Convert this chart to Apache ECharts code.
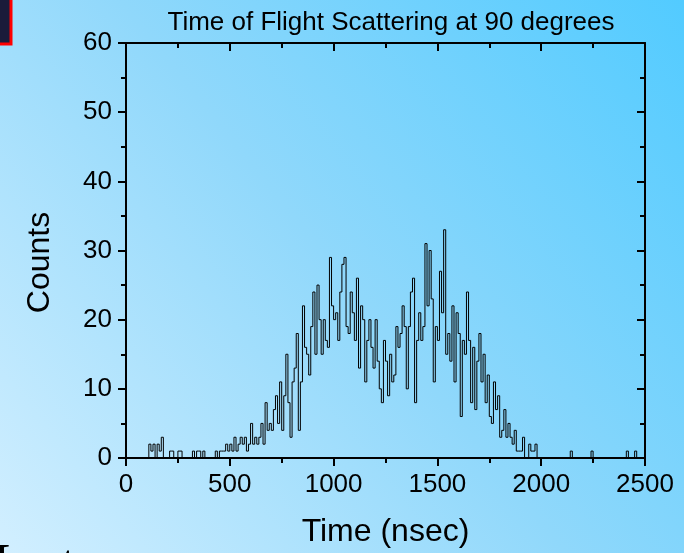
<!DOCTYPE html>
<html>
<head>
<meta charset="utf-8">
<script src="https://cdn.jsdelivr.net/npm/echarts@6/dist/echarts.min.js"></script>
<style>
  html, body { margin: 0; padding: 0; }
  #chart { width: 684px; height: 553px; }
</style>
</head>
<body>
<div id="chart"></div>
<script>
// Time-of-flight histogram: 10 ns channels starting at 0 ns
const channelStart = 0;
const channelWidth = 10;
const counts = [
  0, 0, 0, 0, 0, 0, 0, 0, 0, 0,        // 0
  0, 2, 1, 2, 0, 2, 1, 3, 0, 0,        // 100
  0, 1, 1, 0, 0, 1, 1, 0, 0, 0,        // 200
  0, 0, 1, 0, 1, 1, 0, 1, 0, 0,        // 300
  0, 0, 0, 1, 0, 1, 1, 1, 2, 1,        // 400
  2, 1, 3, 1, 2, 3, 2, 3, 1, 2,        // 500
  5, 2, 3, 2, 3, 5, 2, 8, 4, 5,        // 600
  4, 7, 9, 5, 11, 4, 9, 15, 8, 3,      // 700
  11, 13, 18, 4, 11, 22, 16, 15, 12, 19, // 800
  24, 15, 25, 20, 15, 20, 17, 16, 29, 22, // 900
  20, 21, 17, 24, 28, 29, 19, 18, 24, 21, // 1000
  17, 26, 13, 22, 20, 11, 17, 20, 16, 13, // 1100
  20, 14, 10, 8, 17, 14, 9, 15, 11, 12,   // 1200
  19, 16, 18, 22, 19, 10, 19, 24, 26, 8,  // 1300
  17, 21, 17, 19, 31, 22, 30, 23, 11, 19, // 1400
  17, 27, 21, 33, 15, 18, 14, 22, 11, 21, // 1500
  18, 6, 17, 15, 24, 17, 8, 16, 7, 14,    // 1600
  18, 11, 15, 8, 12, 6, 5, 11, 7, 9,      // 1700
  3, 4, 7, 3, 5, 3, 2, 4, 1, 1,           // 1800
  1, 3, 0, 0, 2, 1, 1, 2, 0, 0,           // 1900
  0, 0, 0, 0, 0, 0, 0, 0, 0, 0,           // 2000
  0, 0, 0, 0, 1, 0, 0, 0, 0, 0,           // 2100
  0, 0, 0, 0, 1, 0, 0, 0, 0, 0,           // 2200
  0, 0, 0, 0, 0, 0, 0, 0, 0, 0,           // 2300
  0, 1, 0, 0, 0, 1, 0, 0, 0, 0            // 2400
];

const xTicks = { min: 0, max: 2500, interval: 500 };
const yTicks = { min: 0, max: 60, interval: 10 };

const titleText = 'Time of Flight Scattering at 90 degrees';
const xName = 'Time (nsec)';
const yName = 'Counts';

const seriesData = counts.map((c, i) => [channelStart + i * channelWidth, c]);

const FONT = 'Liberation Sans, Arial, sans-serif';
const axisLine = { show: true, onZero: false, lineStyle: { color: '#000', width: 2 } };
const plain = v => String(v);

const chart = echarts.init(document.getElementById('chart'));
chart.setOption({
  animation: false,
  backgroundColor: new echarts.graphic.LinearGradient(0, 1, 1, 0, [
    { offset: 0, color: '#d2efff' },
    { offset: 0.5, color: '#90d8fb' },
    { offset: 1, color: '#52cbff' }
  ]),
  title: {
    text: titleText,
    left: 386,
    textAlign: 'center',
    top: 5,
    textStyle: { fontFamily: FONT, fontSize: 26, fontWeight: 'normal', color: '#000' }
  },
  grid: { left: 126, right: 39, top: 43, bottom: 91 },
  xAxis: [{
    type: 'value',
    position: 'bottom',
    min: xTicks.min, max: xTicks.max, interval: xTicks.interval,
    name: xName,
    nameLocation: 'middle',
    nameGap: 58,
    nameTextStyle: { fontFamily: FONT, fontSize: 32, color: '#000' },
    axisLine: axisLine,
    axisTick: { show: true, inside: false, length: 8, lineStyle: { color: '#000', width: 2 } },
    minorTick: { show: true, splitNumber: 2, length: 5, lineStyle: { color: '#000', width: 2 } },
    axisLabel: { margin: 14, fontFamily: FONT, fontSize: 26, color: '#000', formatter: plain },
    splitLine: { show: false }
  }, {
    type: 'value',
    position: 'top',
    min: xTicks.min, max: xTicks.max, interval: xTicks.interval,
    axisLine: axisLine,
    axisTick: { show: true, inside: true, length: 8, lineStyle: { color: '#000', width: 2 } },
    minorTick: { show: true, splitNumber: 2, length: 5, lineStyle: { color: '#000', width: 2 } },
    axisLabel: { show: false },
    splitLine: { show: false }
  }],
  yAxis: [{
    type: 'value',
    position: 'left',
    min: yTicks.min, max: yTicks.max, interval: yTicks.interval,
    name: yName,
    nameLocation: 'middle',
    nameGap: 70,
    nameRotate: 90,
    nameTextStyle: { fontFamily: FONT, fontSize: 32, color: '#000', padding: [0, 24, 0, 0] },
    axisLine: axisLine,
    axisTick: { show: true, inside: false, length: 8, lineStyle: { color: '#000', width: 2 } },
    minorTick: { show: true, splitNumber: 2, length: 5, lineStyle: { color: '#000', width: 2 } },
    axisLabel: { margin: 14, fontFamily: FONT, fontSize: 26, color: '#000', formatter: plain },
    splitLine: { show: false }
  }, {
    type: 'value',
    position: 'right',
    min: yTicks.min, max: yTicks.max, interval: yTicks.interval,
    axisLine: axisLine,
    axisTick: { show: true, inside: true, length: 8, lineStyle: { color: '#000', width: 2 } },
    minorTick: { show: true, splitNumber: 2, length: 5, lineStyle: { color: '#000', width: 2 } },
    axisLabel: { show: false },
    splitLine: { show: false }
  }],
  graphic: [
    {
      type: 'rect',
      shape: { x: -20, y: -20, width: 31, height: 64 },
      style: { fill: '#1b1b3a', stroke: '#ff0000', lineWidth: 3 }
    },
    {
      type: 'text',
      x: -8, y: 540,
      style: { text: 'Inst', font: '56px "Liberation Serif", "Times New Roman", serif', fill: '#000', verticalAlign: 'top' }
    }
  ],
  series: [{
    type: 'line',
    xAxisIndex: 0,
    yAxisIndex: 0,
    step: 'end',
    symbol: 'none',
    data: seriesData,
    lineStyle: { color: '#000', width: 1 },
    z: 3
  }]
});
</script>
</body>
</html>
